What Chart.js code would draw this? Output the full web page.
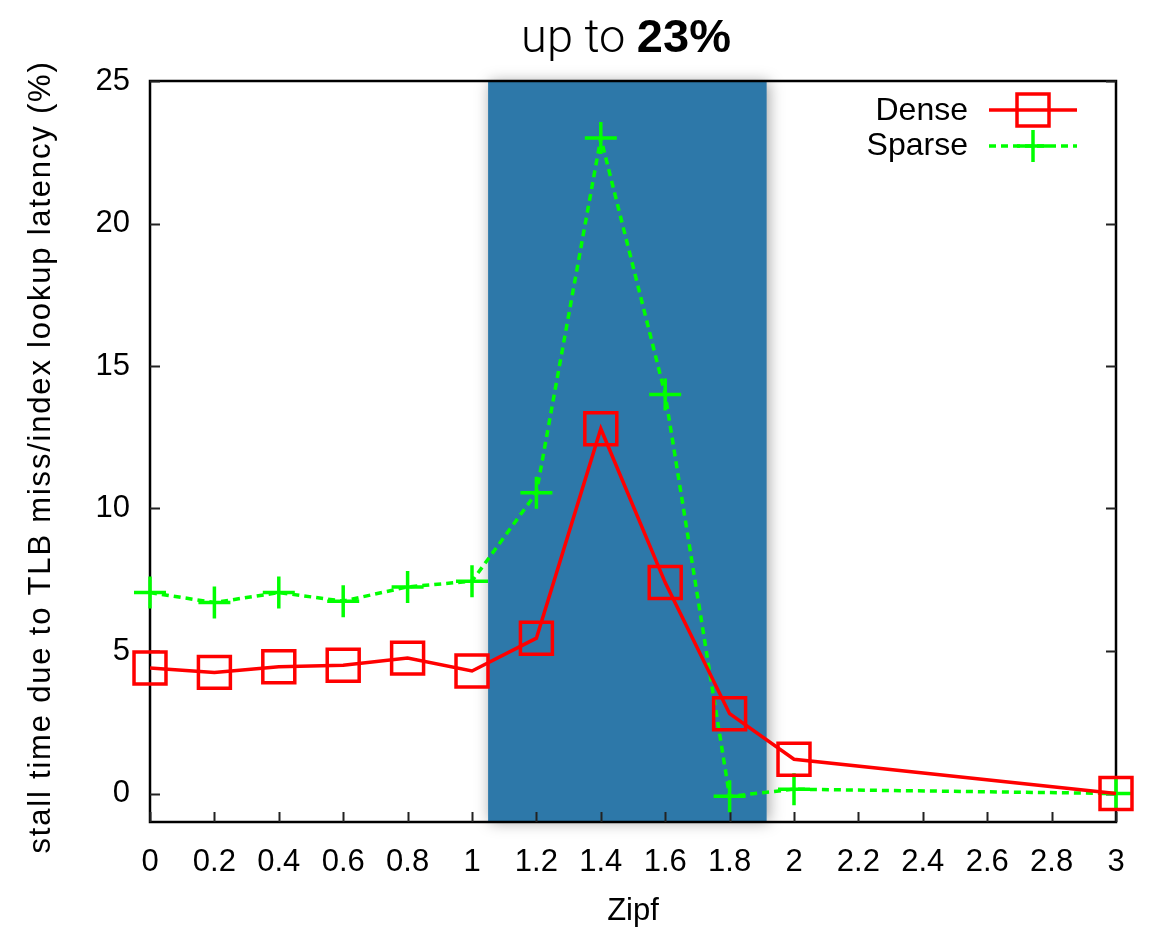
<!DOCTYPE html>
<html>
<head>
<meta charset="utf-8">
<script src="https://cdn.jsdelivr.net/npm/chart.js@4.4.1/dist/chart.umd.min.js"></script>
<style>
  body { margin: 0; background: #fff; }
  #wrap { width: 1154px; height: 929px; position: relative; }
</style>
</head>
<body>
<div id="wrap"><canvas id="chart"></canvas></div>
<script>
    //------------------------------------------Data------------------------------------------------------------------

    const zipf = [0, 0.2, 0.4, 0.6, 0.8, 1.0, 1.2, 1.4, 1.6, 1.8, 2.0, 3.0];
    const dense = [4.4, 4.25, 4.45, 4.5, 4.75, 4.3, 5.45, 12.8, 7.4, 2.8, 1.2, 0];
    const sparse = [7.05, 6.7, 7.05, 6.75, 7.25, 7.45, 10.55, 23.0, 14.0, -0.1, 0.15, 0];

    const xTicks = [0, 0.2, 0.4, 0.6, 0.8, 1, 1.2, 1.4, 1.6, 1.8, 2, 2.2, 2.4, 2.6, 2.8, 3];
    const xTickLabels = ['0', '0.2', '0.4', '0.6', '0.8', '1', '1.2', '1.4', '1.6', '1.8', '2', '2.2', '2.4', '2.6', '2.8', '3'];
    const yTicks = [0, 5, 10, 15, 20, 25];
    const yTickLabels = ['0', '5', '10', '15', '20', '25'];

    // highlighted zipf range (blue band)
    const highlight = [1.05, 1.915];

    const RED = '#ff0000';
    const GREEN = '#00ff00';
    const FONT = '"Liberation Sans", Arial, Helvetica, sans-serif';

    //------------------------------------------Funciones------------------------------------------------------------------

    function points(xs, ys) {
        return xs.map(function (x, i) { return { x: x, y: ys[i] }; });
    }

    function drawSquare(ctx, x, y, half, color) {
        ctx.save();
        ctx.strokeStyle = color;
        ctx.lineWidth = 3.5;
        ctx.strokeRect(x - half, y - half, half * 2, half * 2);
        ctx.restore();
    }

    function drawCross(ctx, x, y, r, color) {
        ctx.save();
        ctx.strokeStyle = color;
        ctx.lineWidth = 3.5;
        ctx.beginPath();
        ctx.moveTo(x - r, y); ctx.lineTo(x + r, y);
        ctx.moveTo(x, y - r); ctx.lineTo(x, y + r);
        ctx.stroke();
        ctx.restore();
    }

    const framePlugin = {
        id: 'frame',
        beforeDatasetsDraw: function (chart) {
            const ctx = chart.ctx;
            const a = chart.chartArea;
            const xs = chart.scales.x, ys = chart.scales.y;

            // blue band
            const bx0 = xs.getPixelForValue(highlight[0]);
            const bx1 = xs.getPixelForValue(highlight[1]);
            ctx.save();
            ctx.shadowColor = 'rgba(0,0,0,0.35)';
            ctx.shadowBlur = 14;
            ctx.shadowOffsetX = 2;
            ctx.fillStyle = '#2d78a9';
            ctx.fillRect(bx0, a.top + 1, bx1 - bx0, a.bottom - a.top - 1);
            ctx.restore();

            // border box and inward ticks
            ctx.save();
            ctx.strokeStyle = '#000';
            ctx.lineWidth = 2.5;
            ctx.strokeRect(a.left, a.top, a.right - a.left, a.bottom - a.top);
            ctx.lineWidth = 2;
            ctx.strokeStyle = '#222';
            ctx.beginPath();
            yTicks.forEach(function (v) {
                const py = Math.round(ys.getPixelForValue(v)) + 0.5;
                ctx.moveTo(a.left, py); ctx.lineTo(a.left + 10, py);
                ctx.moveTo(a.right, py); ctx.lineTo(a.right - 10, py);
            });
            xTicks.forEach(function (v) {
                const px = Math.round(xs.getPixelForValue(v)) + 0.5;
                ctx.moveTo(px, a.bottom); ctx.lineTo(px, a.bottom - 10);
            });
            ctx.stroke();
            ctx.restore();
        },
        afterDraw: function (chart) {
            const ctx = chart.ctx;
            ctx.save();
            ctx.fillStyle = '#000';

            // title "up to 23%"
            const light = '300 47px Roboto, ' + FONT;
            const bold = 'bold 47px ' + FONT;
            ctx.font = light;
            const w1 = ctx.measureText('up to ').width;
            ctx.font = bold;
            const w2 = ctx.measureText('23%').width;
            let tx = 626 - (w1 + w2) / 2;
            ctx.textBaseline = 'alphabetic';
            ctx.textAlign = 'left';
            ctx.font = light;
            ctx.fillText('up to ', tx, 52);
            ctx.font = bold;
            ctx.fillText('23%', tx + w1, 52);

            // axis titles
            ctx.font = '31px ' + FONT;
            ctx.textAlign = 'center';
            ctx.textBaseline = 'middle';
            ctx.fillText('Zipf', 633, 911);
            ctx.save();
            ctx.translate(41, 457);
            ctx.rotate(-Math.PI / 2);
            ctx.letterSpacing = '1.8px';
            ctx.fillText('stall time due to TLB miss/index lookup latency (%)', 0, 0);
            ctx.restore();

            // legend
            ctx.font = '32px ' + FONT;
            ctx.textAlign = 'right';
            ctx.fillText('Dense', 968, 111);
            ctx.fillText('Sparse', 968, 146);

            ctx.lineWidth = 3.5;
            ctx.strokeStyle = RED;
            ctx.beginPath();
            ctx.moveTo(989, 110); ctx.lineTo(1077, 110);
            ctx.stroke();
            drawSquare(ctx, 1033, 110, 16, RED);

            ctx.strokeStyle = GREEN;
            ctx.setLineDash([7, 5]);
            ctx.beginPath();
            ctx.moveTo(989, 146); ctx.lineTo(1077, 146);
            ctx.stroke();
            ctx.setLineDash([]);
            drawCross(ctx, 1033, 146, 16, GREEN);
            ctx.restore();
        }
    };

    new Chart(document.getElementById('chart'), {
        type: 'line',
        data: {
            datasets: [
                {
                    label: 'Dense',
                    data: points(zipf, dense),
                    borderColor: RED,
                    backgroundColor: 'rgba(0,0,0,0)',
                    borderWidth: 3.5,
                    pointStyle: 'rect',
                    pointRadius: 22.6,
                    pointBorderWidth: 3.5,
                    pointBorderColor: RED,
                    pointBackgroundColor: 'rgba(0,0,0,0)',
                    tension: 0,
                    clip: false
                },
                {
                    label: 'Sparse',
                    data: points(zipf, sparse),
                    borderColor: GREEN,
                    backgroundColor: 'rgba(0,0,0,0)',
                    borderWidth: 3.5,
                    borderDash: [7, 5],
                    pointStyle: 'cross',
                    pointRadius: 16,
                    pointBorderWidth: 3.5,
                    pointBorderColor: GREEN,
                    tension: 0,
                    clip: false
                }
            ]
        },
        options: {
            responsive: true,
            maintainAspectRatio: false,
            animation: false,
            events: [],
            layout: { padding: { left: 0, top: 81, right: 38, bottom: 0 } },
            plugins: {
                legend: { display: false },
                title: { display: false },
                tooltip: { enabled: false }
            },
            scales: {
                x: {
                    type: 'linear',
                    min: 0,
                    max: 3,
                    grid: { display: false, drawTicks: false },
                    border: { display: false },
                    afterBuildTicks: function (scale) {
                        scale.ticks = xTicks.map(function (v) { return { value: v }; });
                    },
                    afterFit: function (scale) { scale.height = 107; },
                    ticks: {
                        autoSkip: false,
                        maxRotation: 0,
                        padding: 22,
                        color: '#000',
                        font: { family: FONT, size: 31 },
                        callback: function (v, i) { return xTickLabels[i]; }
                    }
                },
                y: {
                    type: 'linear',
                    min: -1,
                    max: 25,
                    grid: { display: false, drawTicks: false },
                    border: { display: false },
                    afterBuildTicks: function (scale) {
                        scale.ticks = yTicks.map(function (v) { return { value: v }; });
                    },
                    afterFit: function (scale) { scale.width = 150; },
                    ticks: {
                        autoSkip: false,
                        padding: 20,
                        color: '#000',
                        font: { family: FONT, size: 31 },
                        callback: function (v, i) { return yTickLabels[i]; }
                    }
                }
            }
        },
        plugins: [framePlugin]
    });
</script>
</body>
</html>
